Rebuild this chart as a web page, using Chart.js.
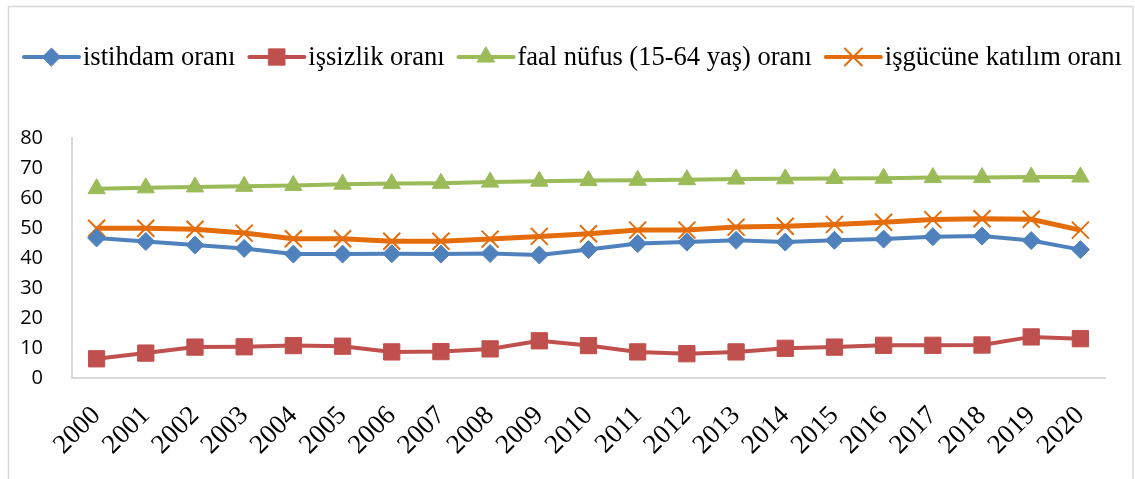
<!DOCTYPE html>
<html lang="tr">
<head>
    <meta charset="UTF-8">
    <title>İstihdam, işsizlik, faal nüfus ve işgücüne katılım oranları</title>
    <style>
        body { margin: 0; background: #fff; }
        #rates { display: block; }
    </style>
</head>
<body>
<canvas id="rates" width="1135" height="479"></canvas>

<script src="https://cdn.jsdelivr.net/npm/chart.js"></script>
<script>
// values
const years = ['2000', '2001', '2002', '2003', '2004', '2005', '2006', '2007', '2008', '2009', '2010',
               '2011', '2012', '2013', '2014', '2015', '2016', '2017', '2018', '2019', '2020'];
const istihdam = [46.7, 45.5, 44.3, 43.2, 41.3, 41.3, 41.4, 41.3, 41.5, 41.0, 42.8,
                  44.8, 45.3, 45.9, 45.3, 45.9, 46.3, 47.1, 47.3, 45.8, 42.8];
const issizlik = [6.4, 8.3, 10.3, 10.4, 10.8, 10.6, 8.7, 8.8, 9.7, 12.4, 10.8,
                  8.7, 8.1, 8.7, 9.9, 10.3, 10.9, 10.9, 11.0, 13.7, 13.1];
const faalNufus = [63.1, 63.4, 63.7, 63.9, 64.2, 64.6, 64.8, 64.9, 65.3, 65.6, 65.8,
                   65.9, 66.1, 66.3, 66.4, 66.5, 66.6, 66.8, 66.8, 67.0, 67.0];
const isgucu = [49.9, 49.9, 49.6, 48.3, 46.4, 46.4, 45.6, 45.6, 46.3, 47.2, 48.1,
                49.3, 49.3, 50.3, 50.6, 51.2, 51.9, 52.8, 53.1, 52.9, 49.3];
const yTicks = [0, 10, 20, 30, 40, 50, 60, 70, 80];

const axisGrey = '#D9D9D9';

// legend drawn by hand: short line with the marker in the middle, like Excel
const lineLegend = {
    id: 'lineLegend',
    beforeDraw(chart) {
        const ctx = chart.ctx;
        ctx.save();
        // outer frame
        ctx.strokeStyle = axisGrey;
        ctx.lineWidth = 1.5;
        ctx.strokeRect(8.5, 6.5, 1124.5, 490);
        ctx.restore();
    },
    afterDraw(chart) {
        const ctx = chart.ctx;
        const y = 57;
        let x = 24;
        ctx.save();
        ctx.font = "26.5px 'Liberation Serif', 'Times New Roman', serif";
        ctx.textBaseline = 'middle';
        chart.data.datasets.forEach(ds => {
            ctx.strokeStyle = ds.borderColor;
            ctx.lineWidth = 4;
            ctx.lineCap = 'round';
            ctx.beginPath();
            ctx.moveTo(x, y);
            ctx.lineTo(x + 55, y);
            ctx.stroke();
            ctx.fillStyle = ds.pointBackgroundColor;
            ctx.strokeStyle = ds.pointBorderColor;
            ctx.lineWidth = ds.pointBorderWidth;
            Chart.helpers.drawPoint(ctx, {
                pointStyle: ds.pointStyle,
                radius: ds.pointRadius,
                rotation: 0,
                borderWidth: ds.pointBorderWidth
            }, x + 27.5, y);
            ctx.fillStyle = '#000';
            ctx.fillText(ds.label, x + 59, y + 1);
            x += 59 + ctx.measureText(ds.label).width + 14;
        });
        ctx.restore();
    }
};

function series(label, data, color, style, radius, width, borderW) {
    return {
        label: label,
        data: data,
        borderColor: color,
        backgroundColor: color,
        borderWidth: width,
        pointStyle: style,
        pointRadius: radius,
        pointHoverRadius: radius,
        pointBackgroundColor: color,
        pointBorderColor: color,
        pointBorderWidth: borderW,
        tension: 0
    };
}

new Chart(document.getElementById('rates'), {
    type: 'line',
    data: {
        labels: years,
        datasets: [
            series('istihdam oranı', istihdam, '#4F81BD', 'rectRot', 9, 4, 1),
            series('işsizlik oranı', issizlik, '#C0504D', 'rect', 11.5, 4, 1),
            series('faal nüfus (15-64 yaş) oranı', faalNufus, '#9BBB59', 'triangle', 10, 4, 1),
            series('işgücüne katılım oranı', isgucu, '#E46C0A', 'crossRot', 12, 5, 2)
        ]
    },
    options: {
        responsive: false,
        animation: false,
        layout: { padding: { left: 10, right: 30, top: 138, bottom: 0 } },
        plugins: {
            legend: { display: false },
            tooltip: { enabled: false }
        },
        scales: {
            x: {
                offset: true,
                grid: { display: false },
                border: { display: true, color: axisGrey, width: 2 },
                ticks: {
                    color: '#000',
                    font: { family: "'Liberation Serif', 'Times New Roman', serif", size: 27 },
                    minRotation: 45,
                    maxRotation: 45,
                    autoSkip: false,
                    padding: 14
                },
                afterFit: s => { s.height = 101; }
            },
            y: {
                min: 0,
                max: 80,
                afterBuildTicks: s => { s.ticks = yTicks.map(v => ({ value: v })); },
                grid: { display: false },
                border: { display: true, color: axisGrey, width: 2 },
                ticks: {
                    color: '#000',
                    font: { family: "'Open Sans', sans-serif", size: 20 },
                    padding: 21
                },
                afterFit: s => { s.width = 62; }
            }
        }
    },
    plugins: [lineLegend]
});
</script>
</body>
</html>
